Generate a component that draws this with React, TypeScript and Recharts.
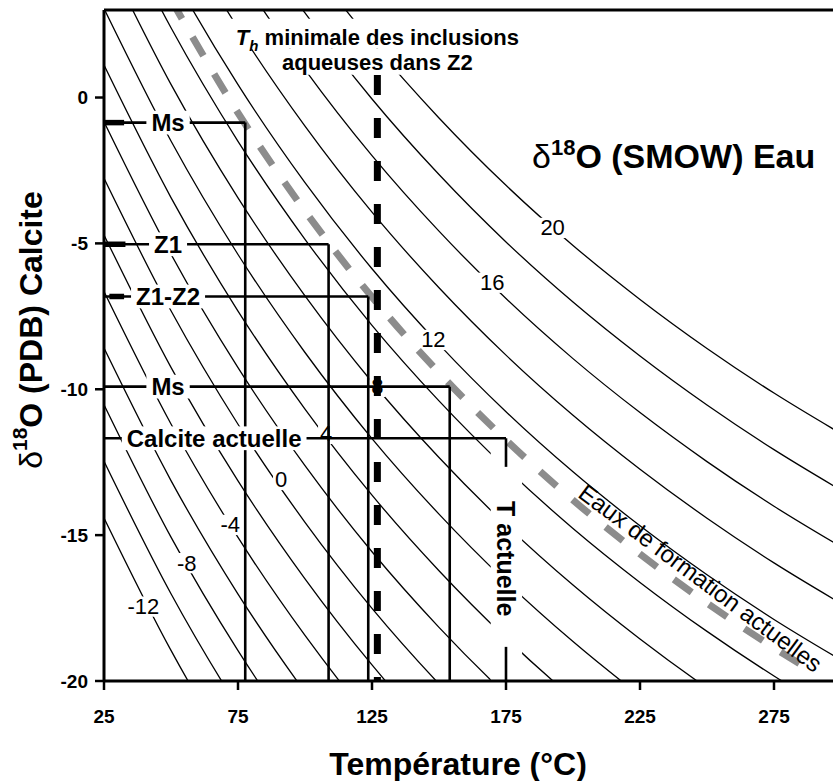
import React from "react"
import {
  LineChart,
  Line,
  XAxis,
  YAxis,
  ReferenceLine,
  ReferenceArea,
  ReferenceDot,
  Label,
} from "recharts"

const FONT = '"Liberation Sans", Arial, Helvetica, sans-serif'

// temperatures (°C) where the water isolines were read
const temps = [25, 50, 75, 100, 125, 150, 175, 200, 225, 250, 275, 300]
// δ18O water (SMOW) of each isoline
const isoLevels = [-12, -10, -8, -6, -4, -2, 0, 2, 4, 6, 8, 10, 12, 14, 16, 18, 20]
// δ18O calcite (PDB) of each isoline at the temperatures above (null = off the plot)
const isoValues: (number | null)[][] = [
  [-14.41, -18.95, -22.84, -26.2, -29.15, null, null, null, null, null, null, null],
  [-12.47, -17.01, -20.9, -24.26, -27.21, -29.8, null, null, null, null, null, null],
  [-10.53, -15.07, -18.96, -22.32, -25.27, -27.86, null, null, null, null, null, null],
  [-8.59, -13.13, -17.02, -20.38, -23.33, -25.92, -28.23, null, null, null, null, null],
  [-6.65, -11.19, -15.08, -18.44, -21.39, -23.98, -26.29, -28.35, null, null, null, null],
  [-4.71, -9.25, -13.14, -16.5, -19.45, -22.04, -24.35, -26.41, -28.26, -29.94, null, null],
  [-2.77, -7.31, -11.2, -14.56, -17.51, -20.1, -22.41, -24.47, -26.32, -28.0, -29.53, null],
  [-0.83, -5.37, -9.26, -12.62, -15.57, -18.16, -20.47, -22.53, -24.38, -26.06, -27.59, -28.98],
  [1.11, -3.43, -7.32, -10.68, -13.63, -16.22, -18.53, -20.59, -22.44, -24.12, -25.65, -27.04],
  [3.05, -1.49, -5.38, -8.74, -11.69, -14.28, -16.59, -18.65, -20.5, -22.18, -23.71, -25.1],
  [4.99, 0.45, -3.44, -6.8, -9.75, -12.34, -14.65, -16.71, -18.56, -20.24, -21.77, -23.16],
  [6.93, 2.39, -1.5, -4.86, -7.81, -10.4, -12.71, -14.77, -16.62, -18.3, -19.83, -21.22],
  [8.87, 4.33, 0.44, -2.92, -5.87, -8.46, -10.77, -12.83, -14.68, -16.36, -17.89, -19.28],
  [10.81, 6.27, 2.38, -0.98, -3.93, -6.52, -8.83, -10.89, -12.74, -14.42, -15.95, -17.34],
  [12.75, 8.21, 4.32, 0.96, -1.99, -4.58, -6.89, -8.95, -10.8, -12.48, -14.01, -15.4],
  [14.69, 10.15, 6.26, 2.9, -0.05, -2.64, -4.95, -7.01, -8.86, -10.54, -12.07, -13.46],
  [16.63, 12.09, 8.2, 4.84, 1.89, -0.7, -3.01, -5.07, -6.92, -8.6, -10.13, -11.52],
]

// isoline labels
const isoLabelText = ["20", "16", "12", "8", "4", "0", "-4", "-8", "-12"]
const isoLabelT = [192.4, 169.9, 147.9, 127.0, 107.9, 91.1, 72.1, 55.9, 39.7]
const isoLabelD = [-4.47, -6.35, -8.31, -9.92, -11.53, -13.11, -14.65, -15.96, -17.45]

// present-day formation waters (grey dashed curve)
const grayTemps = [50, 75, 100, 125, 150, 175, 200, 225, 250, 275, 290]
const grayValues = [3.36, -0.53, -3.89, -6.84, -9.43, -11.74, -13.8, -15.65, -17.33, -18.86, -19.71]

// calcite samples: measured δ18O and the temperature read on the curves
const markerNames = ["Ms", "Z1", "Z1-Z2", "Ms", "Calcite actuelle"]
const markerD18O = [-0.86, -5.03, -6.82, -9.91, -11.68]
const markerTemp = [77.7, 108.8, 123.6, 154, 175]
const markerLabelT = [48.9, 48.9, 48.9, 48.9, 66.1]
// ranges drawn as thick bars on the left axis
const barFrom = [25, 25, 27]
const barTo = [32.5, 33, 32.5]

const thMin = 127
const tActuelleGap = [-12.66, -18.83]

const isoData = temps.map((t, i) => {
  const row: Record<string, number | null> = { t }
  isoLevels.forEach((w, j) => {
    row[`w${w}`] = isoValues[j][i]
  })
  return row
})
const grayData = grayTemps.map((t, i) => ({ t, v: grayValues[i] }))

let ctx: CanvasRenderingContext2D | null = null
const measure = (text: string, size: number, weight: string) => {
  if (!ctx) ctx = document.createElement("canvas").getContext("2d")
  if (!ctx) return text.length * size * 0.55
  ctx.font = `${weight} ${size}px "Liberation Sans"`
  return ctx.measureText(text).width
}

const boxLabel = (text: string, size: number, weight: string, padX: number, padY: number) => (p: any) => {
  const w = measure(text, size, weight)
  const h = size * 0.74
  return (
    <g>
      <rect x={p.cx - w / 2 - padX} y={p.cy - h / 2 - padY} width={w + 2 * padX} height={h + 2 * padY} fill="#fff" />
      <text x={p.cx} y={p.cy} textAnchor="middle" dominantBaseline="central" fontSize={size} fontWeight={weight} fontFamily={FONT} fill="#000">
        {text}
      </text>
    </g>
  )
}

const seg = (x1: number, y1: number, x2: number, y2: number) => [
  { x: x1, y: y1 },
  { x: x2, y: y2 },
]

const tickStyle = { fill: "#000", fontSize: 19, fontWeight: "bold", fontFamily: FONT }

export default function App() {
  return (
    <div style={{ position: "absolute", left: 0, top: 0, width: 833, height: 781, overflow: "hidden", background: "#fff", fontFamily: FONT }}>
      <LineChart width={841} height={781} data={isoData} margin={{ top: 10, right: 0, bottom: 0, left: 0 }}>
        {isoLevels.map((w) => (
          <Line
            key={w}
            dataKey={`w${w}`}
            type="monotone"
            stroke="#000"
            strokeWidth={1.3}
            dot={false}
            activeDot={false}
            isAnimationActive={false}
            zIndex={400}
          />
        ))}

        {isoLabelText.map((s, i) => (
          <ReferenceDot key={`il${i}`} x={isoLabelT[i]} y={isoLabelD[i]} r={0} zIndex={410} shape={boxLabel(s, 22, "normal", 2, 2)} />
        ))}

        <ReferenceArea x1={70.7} x2={181.5} y1={1.67} y2={2.7} fill="#fff" fillOpacity={1} stroke="none" zIndex={420} />
        <ReferenceArea x1={90.4} x2={164} y1={0.78} y2={1.67} fill="#fff" fillOpacity={1} stroke="none" zIndex={420} />
        <ReferenceArea x1={169.3} x2={181} y1={-20} y2={-11.68} fill="#fff" fillOpacity={1} stroke="none" zIndex={420} />

        <Line
          data={grayData}
          dataKey="v"
          type="monotone"
          stroke="#8c8c8c"
          strokeWidth={7}
          strokeDasharray="22 21"
          dot={false}
          activeDot={false}
          isAnimationActive={false}
          zIndex={430}
        />

        {markerNames.map((name, i) => (
          <ReferenceLine key={`h${i}`} segment={seg(25, markerD18O[i], markerTemp[i], markerD18O[i])} stroke="#000" strokeWidth={2.6} zIndex={440} />
        ))}
        {markerNames.slice(0, 4).map((name, i) => (
          <ReferenceLine key={`v${i}`} segment={seg(markerTemp[i], markerD18O[i], markerTemp[i], -20)} stroke="#000" strokeWidth={2.6} zIndex={440} />
        ))}
        <ReferenceLine segment={seg(markerTemp[4], markerD18O[4], markerTemp[4], tActuelleGap[0])} stroke="#000" strokeWidth={2.6} zIndex={440} />
        <ReferenceLine segment={seg(markerTemp[4], tActuelleGap[1], markerTemp[4], -20)} stroke="#000" strokeWidth={2.6} zIndex={440} />
        {barFrom.map((x, i) => (
          <ReferenceLine key={`b${i}`} segment={seg(x, markerD18O[i], barTo[i], markerD18O[i])} stroke="#000" strokeWidth={5.5} zIndex={440} />
        ))}
        <ReferenceLine segment={seg(thMin, 0.77, thMin, -20)} stroke="#000" strokeWidth={7} strokeDasharray="20 23" zIndex={440} />

        {markerNames.map((name, i) => (
          <ReferenceDot key={`ml${i}`} x={markerLabelT[i]} y={markerD18O[i]} r={0} zIndex={450} shape={boxLabel(name, 24, "bold", 5, 3)} />
        ))}

        <ReferenceDot
          x={thMin}
          y={1.81}
          r={0}
          zIndex={460}
          shape={(p: any) => (
            <text x={p.cx} y={p.cy} textAnchor="middle" fontSize={22} fontWeight="bold" fontFamily={FONT} fill="#000">
              <tspan fontStyle="italic">T</tspan>
              <tspan fontStyle="italic" fontSize={15} dy={6}>h</tspan>
              <tspan dy={-6}> minimale des inclusions</tspan>
              <tspan x={p.cx} dy={25}>aqueuses dans Z2</tspan>
            </text>
          )}
        />
        <ReferenceDot
          x={184.7}
          y={-2.41}
          r={0}
          zIndex={460}
          shape={(p: any) => (
            <text x={p.cx} y={p.cy} textAnchor="start" fontSize={34} fontWeight="bold" fontFamily={FONT} fill="#000">
              <tspan fontWeight="normal">δ</tspan>
              <tspan fontSize={22} dy={-13}>18</tspan>
              <tspan dy={13}>O (SMOW) Eau</tspan>
            </text>
          )}
        />
        <ReferenceDot
          x={175}
          y={-15.81}
          r={0}
          zIndex={460}
          shape={(p: any) => (
            <text x={p.cx} y={p.cy} transform={`rotate(90 ${p.cx} ${p.cy})`} textAnchor="middle" dominantBaseline="central" fontSize={25} fontWeight="bold" fontFamily={FONT} fill="#000">
              T actuelle
            </text>
          )}
        />
        <ReferenceDot
          x={247.6}
          y={-16.47}
          r={0}
          zIndex={460}
          shape={(p: any) => (
            <text x={p.cx} y={p.cy} transform={`rotate(36.7 ${p.cx} ${p.cy})`} textAnchor="middle" dominantBaseline="central" fontSize={24} fontFamily={FONT} fill="#000">
              Eaux de formation actuelles
            </text>
          )}
        />

        <ReferenceLine y={3} stroke="#000" strokeWidth={3} zIndex={470} />

        <XAxis
          dataKey="t"
          type="number"
          domain={[25, 300]}
          ticks={[25, 75, 125, 175, 225, 275]}
          allowDataOverflow
          height={100}
          tickSize={9}
          tickMargin={20}
          tick={tickStyle}
          axisLine={{ stroke: "#000", strokeWidth: 3 }}
          tickLine={{ stroke: "#000", strokeWidth: 2.5 }}
        >
          <Label
            content={() => (
              <text x={458} y={775} textAnchor="middle" fontSize={32} fontWeight="bold" fontFamily={FONT} fill="#000">
                Température (°C)
              </text>
            )}
          />
        </XAxis>
        <YAxis
          type="number"
          domain={[-20, 3]}
          ticks={[-20, -15, -10, -5, 0]}
          allowDataOverflow
          width={104}
          tickSize={9}
          tickMargin={7}
          tick={tickStyle}
          axisLine={{ stroke: "#000", strokeWidth: 3 }}
          tickLine={{ stroke: "#000", strokeWidth: 2.5 }}
        >
          <Label
            content={() => (
              <text x={31} y={330} transform="rotate(-90 31 330)" textAnchor="middle" dominantBaseline="central" fontSize={32} fontWeight="bold" fontFamily={FONT} fill="#000">
                <tspan fontWeight="normal">δ</tspan>
                <tspan fontSize={21} dy={-12}>18</tspan>
                <tspan dy={12}>O (PDB) Calcite</tspan>
              </text>
            )}
          />
        </YAxis>
      </LineChart>
    </div>
  )
}
